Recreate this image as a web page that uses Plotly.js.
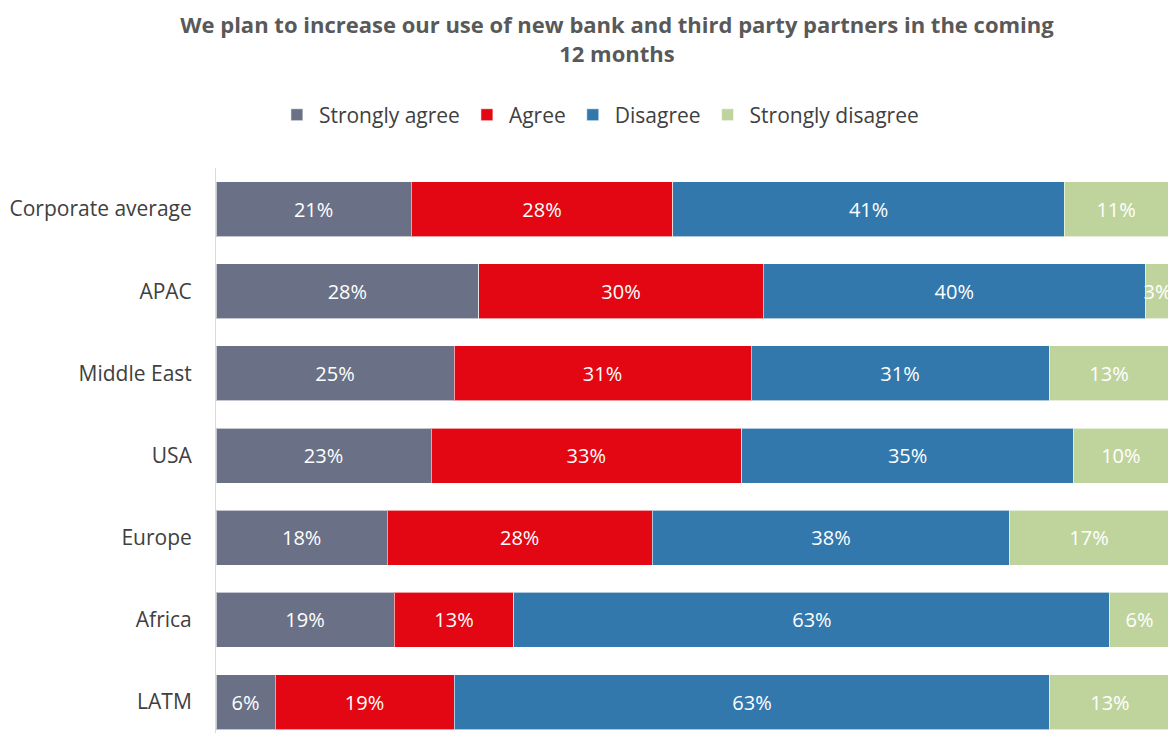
<!DOCTYPE html>
<html><head><meta charset="utf-8">
<script src="https://cdn.plot.ly/plotly-3.0.1.min.js"></script>
<style>html,body{margin:0;padding:0;background:#fff}#chart{width:1173px;height:733px}</style>
</head><body><div id="chart"></div>
<script>
const categories = ["Corporate average","APAC","Middle East","USA","Europe","Africa","LATM"];
const stronglyAgree    = [20.5, 27.6, 25.0, 22.6, 18.0, 18.7, 6.2];
const agree            = [27.5, 29.9, 31.2, 32.6, 27.8, 12.6, 18.8];
const disagree         = [41.1, 40.1, 31.3, 34.9, 37.6, 62.6, 62.6];
const stronglyDisagree = [10.9, 2.6, 12.6, 9.9, 16.6, 6.2, 12.6];
const seriesNames = ["Strongly agree","Agree","Disagree","Strongly disagree"];
const colors = ["#6A7187","#E30613","#3278AD","#BFD49C"];

const font = "Open Sans, Noto Sans, sans-serif";
const data = [stronglyAgree, agree, disagree, stronglyDisagree].map((vals, i) => ({
  type: "bar", orientation: "h",
  name: seriesNames[i],
  y: categories, x: vals,
  marker: {color: colors[i], line: {color: "rgba(255,255,255,0.6)", width: 1}},
  texttemplate: "%{x:.0f}%",
  textposition: "inside",
  insidetextanchor: "middle",
  textangle: 0,
  constraintext: "none",
  textfont: {color: "#ffffff", size: 20, family: font},
  hoverinfo: "none"
}));

const layout = {
  width: 1173, height: 733,
  barmode: "stack", bargap: 0.33,
  margin: {l: 216, r: 5, t: 168, b: 0},
  paper_bgcolor: "#fff", plot_bgcolor: "#fff",
  font: {family: font, color: "#404040"},
  title: {
    text: "<b>We plan to increase our use of new bank and third party partners in the coming<br>12 months</b>",
    font: {size: 22, color: "#595959", family: font},
    x: 0.526, xanchor: "center", xref: "container", y: 0.955, yanchor: "top"
  },
  showlegend: true,
  legend: {
    orientation: "h", x: 0.511, xanchor: "center", xref: "container",
    y: 0.843, yanchor: "middle", yref: "container",
    font: {size: 21, color: "#404040", family: font},
    traceorder: "normal", itemwidth: 34
  },
  xaxis: {range: [0, 100], visible: false, fixedrange: true},
  yaxis: {
    type: "category",
    range: [6.377, -0.5],
    showline: true, linecolor: "#D9D9D9", linewidth: 1,
    ticks: "", showgrid: false,
    tickfont: {size: 21, color: "#404040", family: font},
    ticklabelstandoff: 19
  }
};
Plotly.newPlot("chart", data, layout, {displayModeBar: false, staticPlot: true});
</script></body></html>
